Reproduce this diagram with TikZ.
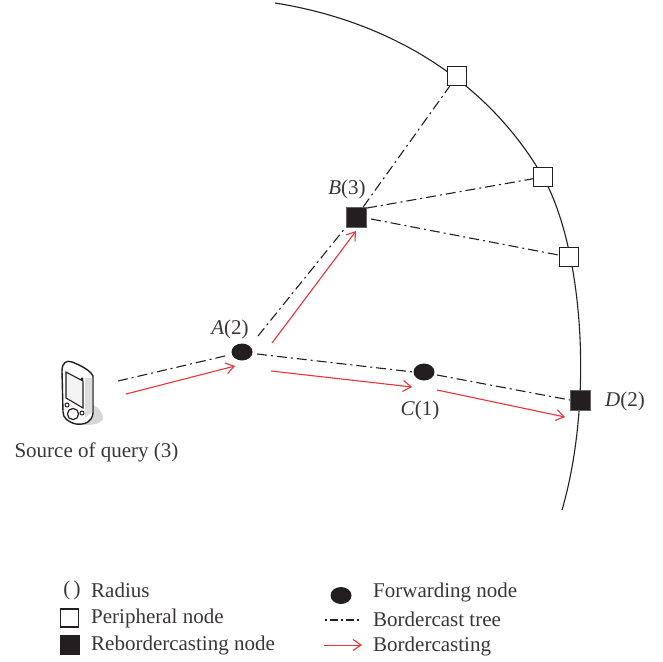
\documentclass[tikz,border=0pt]{standalone}
\usepackage{fontspec}
\setmainfont{Liberation Serif}
\usetikzlibrary{arrows.meta,shapes.geometric}
\definecolor{ink}{HTML}{231F20}
\definecolor{redl}{HTML}{EE3338}
\tikzset{
 x=1pt,y=-1pt,
 lab/.style={inner sep=0pt,font=\fontsize{21}{23}\selectfont,text=ink!90},
 sqw/.style={draw=ink,fill=white,line width=1.3pt,minimum size=19pt,inner sep=0pt},
 sqb/.style={draw=ink!70,fill=ink,line width=.5pt,minimum size=20pt,inner sep=0pt},
 fwd/.style={ellipse,fill=ink,minimum width=21pt,minimum height=17pt,inner sep=0pt},
 tree/.style={ink,line width=1.1pt,dash pattern=on 10pt off 4pt on 2pt off 4pt},
 bc/.style={redl,line width=1.1pt,-{Straight Barb[length=8pt,width=11pt,line width=1.1pt]}},
}
\begin{document}
\begin{tikzpicture}
\useasboundingbox (0,0) rectangle (663,661);
% boundary arc
\draw[ink,line width=1.1pt] (275,3) .. controls (395,22) and (490,85) .. (543,177) .. controls (583,248) and (594,400) .. (562,510);
% nodes
\node[sqw] (p1) at (457,76) {};
\node[sqw] (p2) at (543,177) {};
\node[sqw] (p3) at (569,257) {};
\node[sqb] (B) at (356,217) {};
\node[sqb] (D) at (580,400) {};
\node[fwd] (A) at (242,352) {};
\node[fwd] (C) at (424,372) {};
\coordinate (S1) at (118,381);
\coordinate (S2) at (126,394);
\coordinate (At) at (258,336);
\coordinate (Ar) at (257,354);
\coordinate (Cr) at (437,375);
\coordinate (Br1) at (367,208);
\coordinate (Br2) at (371,219);
% tree
\draw[tree,shorten >=5pt] (S1) -- (A);
\draw[tree] (At) -- (B.225);
\draw[tree] (Ar) -- (C.west);
\draw[tree] (Cr) -- (D.west);
\draw[tree] (B) -- (p1);
\draw[tree] (Br1) -- (p2);
\draw[tree] (Br2) -- (p3);
% bordercasting
\coordinate (r1) at (272,343);
\coordinate (r2) at (271,371);
\coordinate (r3) at (437,390);
\coordinate (B1) at (356,231);
\coordinate (A1) at (235,366);
\coordinate (C1) at (412,387);
\coordinate (D1) at (565,417);
\draw[bc] (S2) -- (A1);
\draw[bc] (r1) -- (B1);
\draw[bc] (r2) -- (C1);
\draw[bc] (r3) -- (D1);
% phone
\fill[ink!18] (75,415) -- (93,405) .. controls (100,408) and (104,415) .. (103,419) .. controls (100,425) and (88,426) .. (78,424) -- cycle;
\draw[ink,line width=1.4pt,fill=white] (62,371) .. controls (62,362) and (67,360) .. (72,362) .. controls (80,365) and (90,370) .. (93,376) -- (93,413) .. controls (92,422) and (85,425) .. (76,424) .. controls (68,422) and (63,418) .. (63,412) -- cycle;
\fill[ink!15] (85,378) -- (92,378) -- (92,412) -- (85,418) -- cycle;
\draw[ink,line width=1.1pt,fill=ink!5] (66,372) -- (83,381) -- (83,408) -- (66,398) -- cycle;
\fill[ink] (82,379) circle (1.6);
\draw[ink,line width=1pt,fill=white] (67,405) circle (2);
\draw[ink,line width=1pt,fill=white] (82,413) circle (2);
\draw[ink,line width=1.2pt,fill=white] (73,414) circle (5.6);
% labels
\node[lab,anchor=center] (ls) at (96.5,452) {Source of query (3)};
\node[lab] (la) at (230,329) {\textit{A}(2)};
\node[lab] (lb) at (347,189) {\textit{B}(3)};
\node[lab] (lc) at (420,410) {\textit{C}(1)};
\node[lab] (ld) at (625,401) {\textit{D}(2)};
% legend
\node[lab] (k0) at (72,590) {(\,)};
\node[lab,anchor=west] (t0) at (91,590) {Radius};
\node[sqw,minimum size=18pt] (k1) at (69.5,618) {};
\node[lab,anchor=west] (t1) at (91,618) {Peripheral node};
\node[sqb,minimum size=20pt,draw=none] (k2) at (69.5,644.5) {};
\node[lab,anchor=west] (t2) at (91,645) {Rebordercasting node};
\node[fwd] (k3) at (341,595.5) {};
\node[lab,anchor=west] (t3) at (373,592) {Forwarding node};
\node[lab,anchor=west] (t4) at (373,619) {Bordercast tree};
\node[lab,anchor=west] (t5) at (373,646) {Bordercasting};
\coordinate (a4) at (325,620);
\coordinate (b4) at (360,620);
\coordinate (a5) at (324,645);
\coordinate (b5) at (362,645);
\draw[tree,dash pattern=on 2pt off 3pt on 8pt off 3pt] (a4) -- (b4);
\draw[bc,line width=.9pt] (a5) -- (b5);
\end{tikzpicture}
\end{document}
